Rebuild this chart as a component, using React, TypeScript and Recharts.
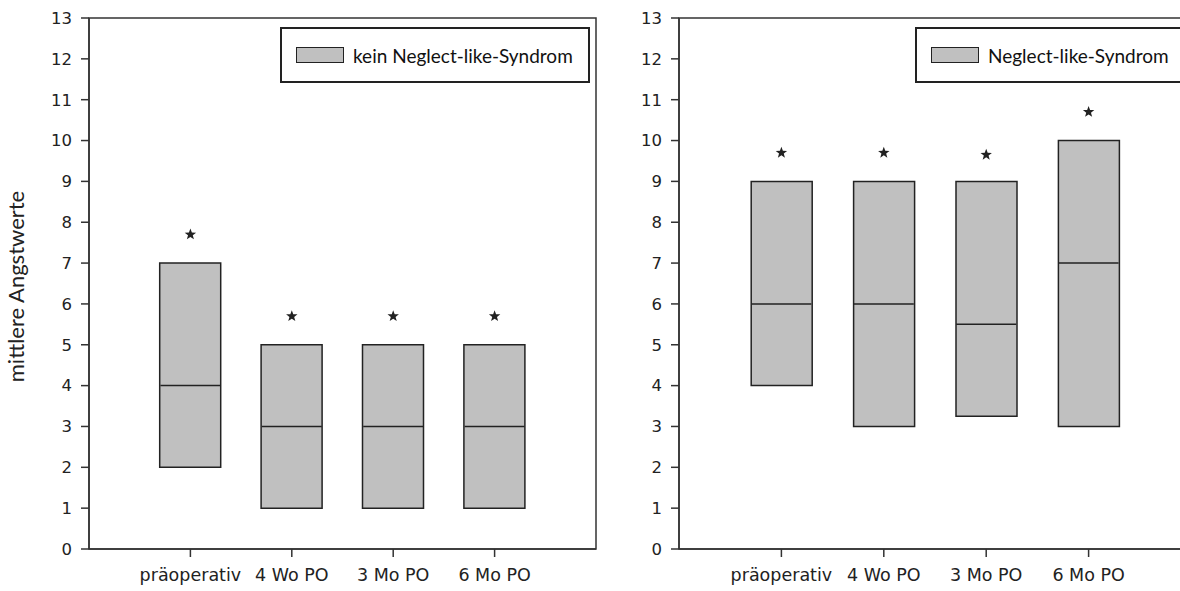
import { ComposedChart, Bar, Scatter, XAxis, YAxis, ReferenceArea, Legend } from 'recharts'

const categories = ['präoperativ', '4 Wo PO', '3 Mo PO', '6 Mo PO']
const yTicks = [0, 1, 2, 3, 4, 5, 6, 7, 8, 9, 10, 11, 12, 13]

// kein Neglect-like-Syndrom
const leftLow = [2, 1, 1, 1]
const leftHigh = [7, 5, 5, 5]
const leftMedian = [4, 3, 3, 3]
const leftStar = [7.7, 5.7, 5.7, 5.7]

// Neglect-like-Syndrom
const rightLow = [4, 3, 3.25, 3]
const rightHigh = [9, 9, 9, 10]
const rightMedian = [6, 6, 5.5, 7]
const rightStar = [9.7, 9.7, 9.65, 10.7]

const INK = '#222'
const BOX_FILL = '#c0c0c0'
const TICK_FONT = '"DejaVu Sans", Verdana, sans-serif'
const LABEL_FONT = 'Lato, "Open Sans", sans-serif'

const buildRows = (low: number[], high: number[], median: number[], star: number[]) =>
  categories.map((name, i) => ({
    x: i + 1,
    name,
    box: [low[i], high[i]],
    median: median[i],
    star: star[i],
  }))

const MedianLine = (props: any) => {
  const { cx, cy } = props
  return <line x1={cx - 30} x2={cx + 30} y1={cy} y2={cy} stroke={INK} strokeWidth={1.5} />
}

const Asterisk = (props: any) => {
  const { cx, cy } = props
  const pts: string[] = []
  for (let k = 0; k < 10; k++) {
    const r = k % 2 === 0 ? 6 : 2.5
    const a = -Math.PI / 2 + (k * Math.PI) / 5
    pts.push(`${cx + r * Math.cos(a)},${cy + r * Math.sin(a)}`)
  }
  return <polygon points={pts.join(' ')} fill={INK} />
}

const makeLegend = (width: number) => (props: any) => {
  const entry = (props.payload || [])[0]
  return (
    <div
      style={{
        width,
        height: 56,
        boxSizing: 'border-box',
        border: `2px solid ${INK}`,
        background: '#fff',
        display: 'flex',
        alignItems: 'center',
        paddingLeft: 14,
      }}
    >
      <span
        style={{
          display: 'inline-block',
          width: 48,
          height: 16,
          boxSizing: 'border-box',
          background: BOX_FILL,
          border: `1.5px solid ${INK}`,
        }}
      />
      <span style={{ marginLeft: 9, fontFamily: LABEL_FONT, fontSize: 19, color: '#111' }}>
        {entry ? entry.value : ''}
      </span>
    </div>
  )
}

interface PanelProps {
  rows: ReturnType<typeof buildRows>
  seriesName: string
  legendLeft: number
  legendWidth: number
  yLabel?: string
  marginRight: number
}

function Panel({ rows, seriesName, legendLeft, legendWidth, yLabel, marginRight }: PanelProps) {
  return (
    <ComposedChart
      width={610}
      height={591}
      data={rows}
      margin={{ top: 18, right: marginRight, bottom: 0, left: 0 }}
    >
      <XAxis
        dataKey="x"
        type="number"
        domain={[0, 5]}
        ticks={[1, 2, 3, 4]}
        tickFormatter={(v) => categories[v - 1] ?? ''}
        height={42}
        stroke="#333"
        strokeWidth={1.5}
        tickSize={8}
        tickMargin={12}
        tick={{ fill: INK, fontSize: 17.5, fontFamily: TICK_FONT }}
      />
      <YAxis
        type="number"
        domain={[0, 13]}
        ticks={yTicks}
        interval={0}
        width={89}
        stroke="#333"
        strokeWidth={1.5}
        tickSize={8}
        tickMargin={9}
        tick={{ fill: INK, fontSize: 16.5, fontFamily: TICK_FONT }}
        label={
          yLabel
            ? {
                value: yLabel,
                angle: -90,
                position: 'center',
                dx: -28,
                dy: 3,
                style: { fill: INK, fontSize: 22, fontFamily: LABEL_FONT, textAnchor: 'middle' },
              }
            : undefined
        }
      />
      <ReferenceArea x1={0} x2={5} y1={0} y2={13} fill="none" stroke="#333" strokeWidth={1.5} />
      <Legend
        layout="vertical"
        align="center"
        verticalAlign="middle"
        wrapperStyle={{ left: legendLeft, top: 27 }}
        content={makeLegend(legendWidth)}
      />
      <Bar
        dataKey="box"
        name={seriesName}
        barSize={61}
        fill={BOX_FILL}
        stroke={INK}
        strokeWidth={1.5}
        isAnimationActive={false}
      />
      <Scatter dataKey="median" legendType="none" shape={<MedianLine />} isAnimationActive={false} />
      <Scatter dataKey="star" legendType="none" shape={<Asterisk />} isAnimationActive={false} />
    </ComposedChart>
  )
}

export default function App() {
  const leftRows = buildRows(leftLow, leftHigh, leftMedian, leftStar)
  const rightRows = buildRows(rightLow, rightHigh, rightMedian, rightStar)
  return (
    <div
      style={{
        position: 'absolute',
        left: 0,
        top: 0,
        width: 1180,
        height: 591,
        overflow: 'hidden',
        background: '#fff',
      }}
    >
      <div style={{ position: 'absolute', left: 0, top: 0 }}>
        <Panel
          rows={leftRows}
          seriesName="kein Neglect-like-Syndrom"
          legendLeft={280}
          legendWidth={310}
          yLabel="mittlere Angstwerte"
          marginRight={14}
        />
      </div>
      <div style={{ position: 'absolute', left: 590, top: 0 }}>
        <Panel
          rows={rightRows}
          seriesName="Neglect-like-Syndrom"
          legendLeft={325}
          legendWidth={272}
          marginRight={9}
        />
      </div>
    </div>
  )
}
